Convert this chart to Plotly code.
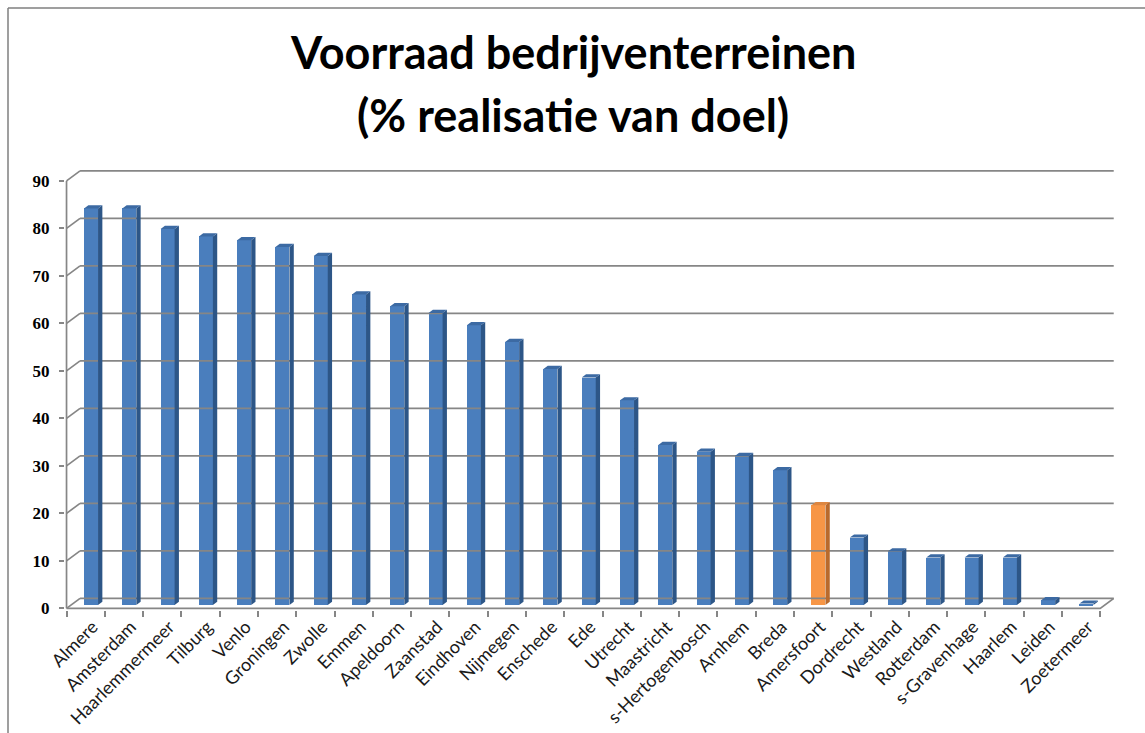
import plotly.graph_objects as go

# ---- data -----------------------------------------------------------------
categories = [
    "Almere", "Amsterdam", "Haarlemmermeer", "Tilburg", "Venlo", "Groningen",
    "Zwolle", "Emmen", "Apeldoorn", "Zaanstad", "Eindhoven", "Nijmegen",
    "Enschede", "Ede", "Utrecht", "Maastricht", "s-Hertogenbosch", "Arnhem",
    "Breda", "Amersfoort", "Dordrecht", "Westland", "Rotterdam",
    "s-Gravenhage", "Haarlem", "Leiden", "Zoetermeer",
]
realisatie = [
    83.5, 83.5, 79.2, 77.6, 76.8, 75.4,
    73.5, 65.4, 62.9, 61.5, 58.9, 55.4,
    49.7, 47.9, 43.1, 33.7, 32.3, 31.4,
    28.4, 21.0, 14.2, 11.3, 10.0,
    10.0, 10.0, 1.0, 0.3,
]
highlight = "Amersfoort"
y_ticks = [0, 10, 20, 30, 40, 50, 60, 70, 80, 90]

# ---- pseudo-3D geometry (in axis units) -----------------------------------
N = len(categories)
DX, DY = 0.353, 2.105          # depth vector of the chart floor/walls
BAR_FRONT = 0.33               # depth position of the bar front faces
BAR_DEPTH = 0.32               # depth of each bar (fraction of floor depth)
BAR_OFFSET, BAR_WIDTH = 0.457, 0.366
Y_TOP = max(y_ticks)

X_RANGE = [-0.04, N + DX + 0.007]
Y_RANGE = [-0.35, Y_TOP + DY + 0.4]

W, H = 1145, 733
M_L, M_R, M_T, M_B = 65, 31, 169, 123
PLOT_W, PLOT_H = W - M_L - M_R, H - M_T - M_B

GRID = "#868686"
FRONT = {"blue": "#4a7ebd", "orange": "#f79646"}
SIDE = {"blue": "#2d5687", "orange": "#b96a2c"}
TOP = {"blue": "#3c6aa3", "orange": "#dd8640"}
LABEL_FAMILY = "Lato, 'Open Sans', sans-serif"


def px_x(px):
    return (px - M_L) / PLOT_W


def px_y(py):
    return (H - M_B - py) / PLOT_H


fig = go.Figure()

# back wall gridlines and side-wall diagonals
gx, gy, sx, sy = [], [], [], []
for v in y_ticks:
    gx += [DX, N + DX, None]
    gy += [v + DY, v + DY, None]
    sx += [0, DX, None]
    sy += [v, v + DY, None]
line_style = dict(color=GRID, width=1.7)
fig.add_trace(go.Scatter(x=gx, y=gy, mode="lines", line=line_style, hoverinfo="skip"))
fig.add_trace(go.Scatter(x=sx, y=sy, mode="lines", line=line_style, hoverinfo="skip"))
# front axis, floor front edge and floor right edge
fig.add_trace(go.Scatter(
    x=[0, 0, None, 0, N, N + DX], y=[Y_TOP, 0, None, 0, 0, DY],
    mode="lines", line=line_style, hoverinfo="skip"))

# bars: front faces through a bar trace, sides and tops as filled polygons
tone = ["orange" if c == highlight else "blue" for c in categories]
base = BAR_FRONT * DY
fig.add_trace(go.Bar(
    x=[i + BAR_OFFSET + BAR_WIDTH / 2 for i in range(N)],
    y=realisatie, base=base, width=BAR_WIDTH,
    marker=dict(color=[FRONT[t] for t in tone], line=dict(width=0)),
    hovertext=categories, hoverinfo="text+y",
))
ddx, ddy = BAR_DEPTH * DX, BAR_DEPTH * DY
for key in ("blue", "orange"):
    side_x, side_y, top_x, top_y = [], [], [], []
    for i, (v, t) in enumerate(zip(realisatie, tone)):
        if t != key:
            continue
        x0 = i + BAR_OFFSET
        x1 = x0 + BAR_WIDTH
        yt = base + v
        side_x += [x1, x1 + ddx, x1 + ddx, x1, x1, None]
        side_y += [base, base + ddy, yt + ddy, yt, base, None]
        top_x += [x0, x1, x1 + ddx, x0 + ddx, x0, None]
        top_y += [yt, yt, yt + ddy, yt + ddy, yt, None]
    fig.add_trace(go.Scatter(x=side_x, y=side_y, mode="lines", fill="toself",
                             fillcolor=SIDE[key], line=dict(width=0),
                             hoverinfo="skip"))
    fig.add_trace(go.Scatter(x=top_x, y=top_y, mode="lines", fill="toself",
                             fillcolor=TOP[key], line=dict(width=0),
                             hoverinfo="skip"))

# outer frame
fig.add_shape(type="line", xref="paper", yref="paper",
              x0=px_x(8), y0=px_y(H), x1=px_x(8), y1=px_y(8),
              line=dict(color="#7f7f7f", width=1.5))
fig.add_shape(type="line", xref="paper", yref="paper",
              x0=px_x(8), y0=px_y(8), x1=px_x(W), y1=px_y(8),
              line=dict(color="#7f7f7f", width=1.5))

# title
title_font = dict(family=LABEL_FAMILY, size=45, color="black", weight=700)
fig.add_annotation(text="Voorraad bedrijventerreinen", xref="paper", yref="paper",
                   x=px_x(W / 2), y=px_y(52), xanchor="center", yanchor="middle",
                   showarrow=False, font=title_font)
fig.add_annotation(text="(% realisatie van doel)", xref="paper", yref="paper",
                   x=px_x(W / 2), y=px_y(115), xanchor="center", yanchor="middle",
                   showarrow=False, font=title_font)

fig.update_layout(
    width=W, height=H,
    margin=dict(l=M_L, r=M_R, t=M_T, b=M_B, autoexpand=False),
    paper_bgcolor="white", plot_bgcolor="white",
    showlegend=False, bargap=0,
    xaxis=dict(
        range=X_RANGE, showgrid=False, zeroline=False, showline=False,
        tickmode="array", tickvals=[i + 0.5 for i in range(N)], ticktext=categories,
        tickangle=-45, ticks="", ticklabelshift=7, ticklabelstandoff=2,
        tickfont=dict(family=LABEL_FAMILY, size=18, color="#1a1a1a"),
        minor=dict(tickmode="array", tickvals=list(range(N + 1)), ticks="outside",
                   ticklen=6, tickwidth=1.5, tickcolor=GRID, showgrid=False),
    ),
    yaxis=dict(
        range=Y_RANGE, showgrid=False, zeroline=False, showline=False,
        tickmode="array", tickvals=y_ticks, ticks="outside", ticklen=5,
        tickwidth=1.5, tickcolor=GRID, ticklabelstandoff=6,
        tickfont=dict(family="'Liberation Serif', serif", size=17, color="black", weight=700),
    ),
)

fig.write_html("out.html")
